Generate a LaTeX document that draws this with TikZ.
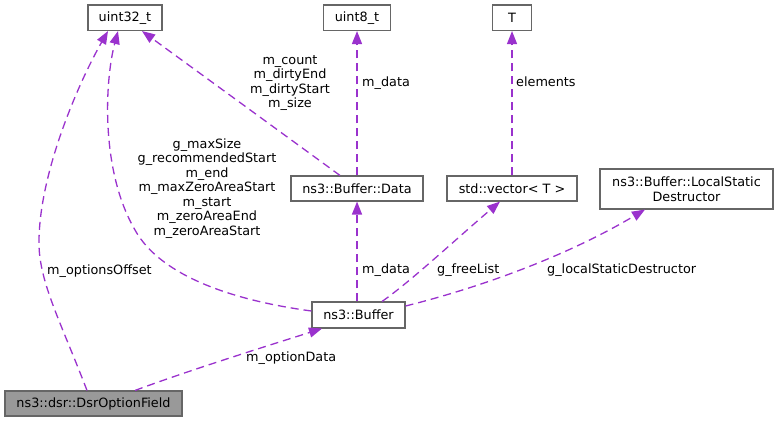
\documentclass[tikz,border=0pt]{standalone}
\usepackage{fontspec}
\setmainfont{DejaVu Sans}
\usetikzlibrary{arrows.meta}
\definecolor{edgec}{HTML}{9A32CD}
\definecolor{boxc}{HTML}{666666}
\definecolor{fillc}{HTML}{999999}
\begin{document}
\begin{tikzpicture}[x=1pt,y=-1pt,
 cls/.style={draw=boxc, line width=1.1pt, inner sep=0pt, font=\fontsize{12.8}{14.5}\selectfont, align=center},
 lbl/.style={font=\fontsize{12.8}{14.5}\selectfont, inner sep=0pt, align=center},
 dep/.style={draw=edgec, line width=1.3pt, dash pattern=on 8pt off 5pt, -{Triangle[length=13pt,width=10pt,fill=edgec]}},
]
\useasboundingbox (0,0) rectangle (778,421);
% classes
\node[cls, minimum width=74pt, minimum height=25.5pt] (u32) at (125,17.75) {uint32\_t};
\node[cls, minimum width=67pt, minimum height=25.5pt] (u8) at (357,17.75) {uint8\_t};
\node[cls, minimum width=39pt, minimum height=25.5pt] (T) at (512,17.75) {T};
\node[cls, minimum width=132pt, minimum height=25pt] (data) at (357,188.5) {ns3::Buffer::Data};
\node[cls, minimum width=130pt, minimum height=25pt] (vec) at (512,188.5) {std::vector< T >};
\node[cls, minimum width=173pt, minimum height=40pt] (lsd) at (686.5,189) {ns3::Buffer::LocalStatic\\Destructor};
\node[cls, minimum width=93pt, minimum height=26pt] (buf) at (358.5,315) {ns3::Buffer};
\node[cls, fill=fillc, minimum width=177pt, minimum height=25pt] (dsr) at (93.5,403.5) {ns3::dsr::DsrOptionField};
% edges
\draw[dep] ([xshift=-6.5pt]dsr.north) .. controls (60,320) and (38,280) .. (39,240) .. controls (40,170) and (80,80) .. ([xshift=-17pt]u32.south);
\draw[dep] ([yshift=4pt]buf.west) .. controls (230,300) and (160,275) .. (135,230) .. controls (100,170) and (105,80) .. ([xshift=-7pt]u32.south);
\draw[dep] ([xshift=-17pt]data.north) -- ([xshift=17pt]u32.south);
\draw[dep] (data.north) -- (u8.south);
\draw[dep] (vec.north) -- (T.south);
\draw[dep] (buf.north -| data.south) -- (data.south);
\draw[dep] ([xshift=23.5pt]buf.north) .. controls (410,282) and (455,240) .. ([xshift=-12pt]vec.south);
\draw[dep] ([yshift=9pt]buf.east) .. controls (470,290) and (560,260) .. ([xshift=-41.5pt]lsd.south);
\draw[dep] ([xshift=41.5pt]dsr.north) .. controls (190,370) and (270,345) .. ([xshift=-36.5pt]buf.south);
% labels
\node[lbl, anchor=west] (l1) at (47,271) {m\_optionsOffset};
\node[lbl] (l2) at (207,188.5) {g\_maxSize\\g\_recommendedStart\\m\_end\\m\_maxZeroAreaStart\\m\_start\\m\_zeroAreaEnd\\m\_zeroAreaStart};
\node[lbl] (l3) at (290,83) {m\_count\\m\_dirtyEnd\\m\_dirtyStart\\m\_size};
\node[lbl, anchor=west] (l4) at (362,83) {m\_data};
\node[lbl, anchor=west] (l5) at (516,82) {elements};
\node[lbl, anchor=west] (l6) at (362,270) {m\_data};
\node[lbl, anchor=west] (l7) at (437,270) {g\_freeList};
\node[lbl, anchor=west] (l8) at (547,270) {g\_localStaticDestructor};
\node[lbl, anchor=west] (l9) at (246,358) {m\_optionData};
\end{tikzpicture}
\end{document}
